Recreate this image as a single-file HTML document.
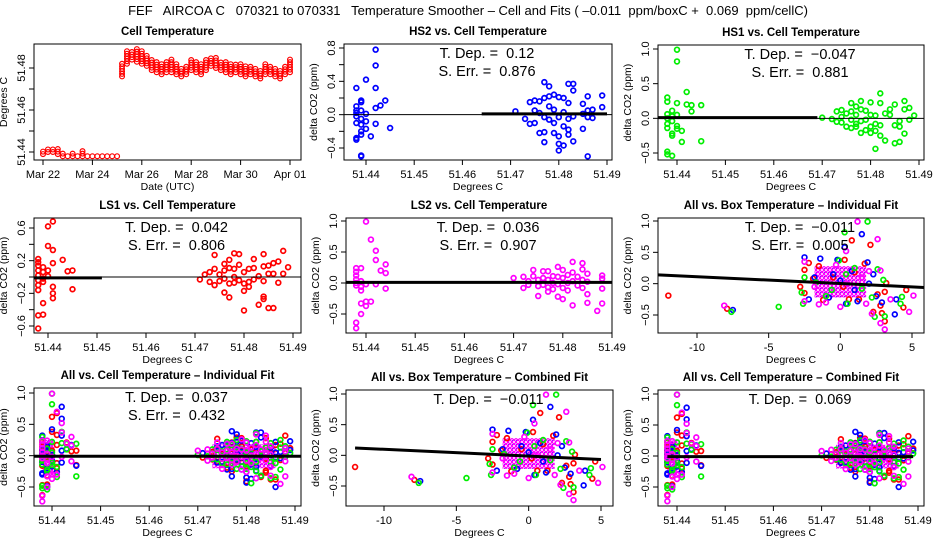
<!DOCTYPE html>
<html><head><meta charset="utf-8"><style>
html,body{margin:0;padding:0;background:#fff;}
svg{display:block;font-family:"Liberation Sans",Arial,sans-serif;}
</style></head><body>
<svg id="chart" width="936" height="540" viewBox="0 0 936 540" xmlns="http://www.w3.org/2000/svg">
<defs>
<pattern id="densePat" width="4" height="4" patternUnits="userSpaceOnUse"><rect width="4" height="4" fill="#ffffff"/><circle cx="2" cy="2" r="1.6" fill="none" stroke="#ff00ff" stroke-width="1.2"/><circle cx="0" cy="0" r="0.8" fill="#0000ff"/></pattern>
</defs>
<text x="468" y="15" text-anchor="middle" font-size="13" style="white-space:pre">FEF   AIRCOA C   070321 to 070331   Temperature Smoother – Cell and Fits ( –0.011  ppm/boxC +  0.069  ppm/cellC)</text>
</svg>
<script>
// ---- Panel 1: cell temperature time series (day of March, min/max per interval)
const tsDays = [22.0,22.2,22.4,22.6,22.8,23.0,23.2,23.4,23.6,23.8,24.0,24.2,24.4,24.6,24.8,25.0,25.2,25.4,25.6,25.8,26.0,26.2,26.4,26.6,26.8,27.0,27.2,27.4,27.6,27.8,28.0,28.2,28.4,28.6,28.8,29.0,29.2,29.4,29.6,29.8,30.0,30.2,30.4,30.6,30.8,31.0,31.2,31.4,31.6,31.8,32.0];
const tsMin = [51.439,51.440,51.440,51.439,51.438,51.438,51.438,51.438,51.438,51.438,51.438,51.438,51.438,51.438,51.438,51.438,51.476,51.482,51.484,51.483,51.482,51.481,51.479,51.478,51.477,51.478,51.478,51.477,51.476,51.477,51.479,51.478,51.477,51.479,51.481,51.480,51.479,51.478,51.477,51.478,51.477,51.476,51.477,51.476,51.475,51.477,51.477,51.476,51.475,51.477,51.478];
const tsMax = [51.441,51.442,51.442,51.442,51.440,51.439,51.440,51.439,51.441,51.439,51.439,51.439,51.439,51.439,51.439,51.438,51.482,51.488,51.488,51.489,51.488,51.486,51.484,51.483,51.482,51.483,51.484,51.482,51.480,51.481,51.484,51.483,51.482,51.484,51.485,51.485,51.483,51.483,51.482,51.482,51.482,51.481,51.481,51.480,51.479,51.482,51.481,51.480,51.479,51.481,51.484];
const dayTicks = [22,24,26,28,30,32];
const dayLabels = ["Mar 22","Mar 24","Mar 26","Mar 28","Mar 30","Apr 01"];

// ---- Sensor data vs cell temperature [cellT, dCO2]
const hs2Cell = [[51.438,0.32],[51.438,0.10],[51.438,0.05],[51.438,-0.02],[51.438,-0.10],[51.438,-0.28],[51.438,-0.30],[51.439,0.17],[51.439,0.15],[51.439,0.05],[51.439,-0.05],[51.439,-0.20],[51.439,-0.24],[51.439,-0.50],[51.439,-0.49],[51.440,0.42],[51.440,0.01],[51.440,-0.08],[51.440,-0.17],[51.441,-0.26],[51.442,0.78],[51.442,0.59],[51.442,0.32],[51.442,0.08],[51.442,-0.11],[51.443,0.11],[51.444,0.17],[51.445,-0.16],[51.438,0.02],[51.439,-0.12],
[51.471,0.04],[51.473,-0.05],[51.474,0.15],[51.474,-0.11],[51.475,0.17],[51.475,0.05],[51.475,-0.10],[51.476,0.16],[51.476,0.02],[51.476,-0.22],[51.477,0.39],[51.477,0.20],[51.477,-0.03],[51.477,-0.21],[51.477,-0.33],[51.478,0.34],[51.478,0.22],[51.478,0.10],[51.478,-0.06],[51.479,0.24],[51.479,0.06],[51.479,-0.10],[51.479,-0.22],[51.480,0.21],[51.480,-0.03],[51.480,-0.26],[51.480,-0.35],[51.480,-0.43],[51.481,0.20],[51.481,0.03],[51.481,-0.14],[51.481,-0.37],[51.482,0.37],[51.482,0.14],[51.482,-0.05],[51.482,-0.18],[51.482,-0.24],[51.483,0.37],[51.483,0.29],[51.483,-0.02],[51.483,-0.32],[51.485,0.13],[51.485,0.01],[51.485,-0.17],[51.486,0.22],[51.486,0.05],[51.486,-0.03],[51.486,-0.50],[51.487,0.06],[51.487,-0.04],[51.489,0.23],[51.489,0.09]];
const hs1Cell = [[51.438,0.30],[51.438,0.24],[51.438,0.06],[51.438,0.00],[51.438,-0.08],[51.438,-0.14],[51.438,-0.48],[51.438,-0.52],[51.439,0.11],[51.439,0.03],[51.439,-0.04],[51.439,-0.22],[51.439,-0.25],[51.439,-0.54],[51.440,0.99],[51.440,0.82],[51.440,0.22],[51.440,0.05],[51.440,-0.11],[51.440,-0.15],[51.441,-0.18],[51.441,-0.34],[51.442,0.38],[51.442,0.20],[51.443,0.19],[51.443,0.10],[51.445,0.19],[51.445,-0.33],
[51.470,0.01],[51.472,-0.01],[51.473,0.10],[51.473,-0.05],[51.474,0.12],[51.474,0.02],[51.474,-0.06],[51.475,0.07],[51.475,-0.12],[51.476,0.22],[51.476,0.10],[51.476,-0.02],[51.476,-0.14],[51.477,0.17],[51.477,0.05],[51.477,-0.08],[51.477,-0.12],[51.478,0.25],[51.478,0.13],[51.478,-0.04],[51.478,-0.21],[51.479,0.11],[51.479,-0.02],[51.479,-0.17],[51.480,0.23],[51.480,0.05],[51.480,-0.12],[51.480,-0.21],[51.481,0.04],[51.481,-0.08],[51.481,-0.18],[51.481,-0.44],[51.482,0.36],[51.482,0.22],[51.482,-0.10],[51.482,-0.25],[51.483,0.07],[51.483,-0.32],[51.484,0.13],[51.484,0.05],[51.485,0.20],[51.485,-0.10],[51.485,-0.36],[51.486,-0.04],[51.486,-0.12],[51.486,-0.34],[51.487,0.25],[51.487,0.13],[51.487,-0.22],[51.488,0.15],[51.488,-0.02],[51.489,0.04]];
const ls1Cell = [[51.438,0.22],[51.438,0.18],[51.438,0.14],[51.438,0.08],[51.438,0.02],[51.438,-0.04],[51.438,-0.10],[51.438,-0.16],[51.438,-0.47],[51.438,-0.63],[51.439,0.12],[51.439,0.06],[51.439,-0.02],[51.439,-0.06],[51.439,-0.32],[51.439,-0.46],[51.440,0.62],[51.440,0.38],[51.440,0.08],[51.440,0.01],[51.441,0.68],[51.441,0.33],[51.441,0.17],[51.441,-0.12],[51.441,-0.20],[51.441,-0.26],[51.443,0.21],[51.444,0.07],[51.445,0.08],[51.445,-0.15],
[51.471,-0.03],[51.472,0.03],[51.473,0.06],[51.473,-0.06],[51.474,0.27],[51.474,0.10],[51.474,-0.10],[51.475,0.03],[51.475,-0.05],[51.476,0.16],[51.476,0.08],[51.476,-0.02],[51.476,-0.19],[51.477,0.21],[51.477,0.11],[51.477,-0.08],[51.477,-0.25],[51.478,0.29],[51.478,0.10],[51.478,0.00],[51.478,-0.07],[51.479,0.28],[51.479,0.15],[51.479,-0.04],[51.480,0.06],[51.480,-0.08],[51.480,-0.17],[51.480,-0.41],[51.481,0.10],[51.481,-0.06],[51.481,-0.12],[51.482,0.22],[51.482,0.11],[51.482,-0.03],[51.483,0.01],[51.483,-0.34],[51.484,0.28],[51.484,0.13],[51.484,-0.05],[51.484,-0.24],[51.484,-0.27],[51.485,0.14],[51.485,0.04],[51.485,-0.38],[51.486,0.17],[51.486,0.04],[51.486,-0.38],[51.487,0.19],[51.487,-0.07],[51.488,0.32],[51.488,0.04],[51.489,0.12]];
const ls2Cell = [[51.438,0.24],[51.438,0.18],[51.438,0.12],[51.438,0.06],[51.438,0.00],[51.438,-0.04],[51.438,-0.64],[51.438,-0.73],[51.439,0.24],[51.439,0.03],[51.439,-0.06],[51.439,-0.12],[51.439,-0.33],[51.439,-0.50],[51.440,0.99],[51.440,-0.02],[51.440,-0.30],[51.440,-0.37],[51.441,0.70],[51.441,-0.30],[51.442,0.52],[51.442,0.37],[51.442,-0.02],[51.443,0.20],[51.444,0.30],[51.444,0.16],[51.444,-0.09],
[51.470,0.08],[51.472,0.10],[51.472,-0.08],[51.473,0.03],[51.473,-0.03],[51.474,0.21],[51.474,0.11],[51.475,0.05],[51.475,-0.05],[51.475,-0.21],[51.476,0.19],[51.476,0.08],[51.476,-0.03],[51.477,0.19],[51.477,0.05],[51.477,-0.07],[51.477,-0.14],[51.478,0.11],[51.478,0.00],[51.478,-0.10],[51.479,0.26],[51.479,0.10],[51.479,-0.02],[51.479,-0.22],[51.480,0.21],[51.480,0.08],[51.480,-0.08],[51.480,-0.26],[51.481,0.13],[51.481,0.00],[51.481,-0.12],[51.482,0.34],[51.482,0.17],[51.482,0.03],[51.482,-0.36],[51.483,0.10],[51.483,-0.04],[51.484,0.32],[51.484,0.22],[51.484,0.05],[51.484,-0.08],[51.485,0.15],[51.485,0.02],[51.485,-0.18],[51.485,-0.32],[51.487,-0.45],[51.488,0.12],[51.488,0.07],[51.488,-0.09],[51.488,-0.33]];

// ---- Sensor data vs box temperature [boxT, dCO2]
const ls1Box = [[-12,-0.19],[-7.9,-0.40],[0.8,0.69],[2.1,0.62],[4.6,-0.10],[4.4,-0.38],[3.1,-0.60],[2.9,-0.47],[2.3,-0.45],[3.1,-0.13],[3.2,0.01],[0.3,0.38],[-2.5,0.22],[-2.5,-0.15],[-2.2,0.33],[-2.8,-0.05],[-1.9,0.08],[-1.2,-0.26],[-0.8,-0.22],[0.6,-0.25],[1.3,-0.25],[1.7,0.32],[2.6,-0.17],[2.8,-0.35],[1.0,0.18],[-1.5,0.28],[-0.5,0.10],[0.2,-0.05]];
const hs2Box = [[-7.5,-0.42],[-2.5,0.42],[-2.2,-0.25],[-1.4,0.40],[-0.2,0.38],[0.3,0.58],[1.5,0.79],[1.9,0.34],[2.3,0.15],[3.8,-0.49],[3.9,-0.25],[2.9,-0.30],[1.2,-0.28],[0.4,-0.32],[-0.8,-0.22],[0.8,0.20],[-0.5,0.15],[1.0,-0.10],[2.5,-0.20],[-1.8,0.10],[0.0,0.05],[2.0,0.0]];
const hs1Box = [[-7.6,-0.45],[-4.3,-0.37],[-2.6,-0.32],[-2.7,-0.14],[-2.5,0.10],[-0.1,0.37],[0.3,0.82],[1.9,0.99],[2.6,0.23],[2.2,-0.22],[2.4,-0.53],[3.1,-0.52],[4.2,-0.32],[4.3,-0.21],[0.5,-0.32],[-1.0,-0.20],[0.4,0.15],[1.5,-0.08],[-0.6,-0.10],[3.0,0.06],[1.0,0.25],[-1.7,0.02]];
const ls2Box = [[-8.1,-0.35],[-2.5,0.35],[-2.5,-0.28],[-1.5,-0.33],[-1.0,-0.30],[0.0,-0.37],[0.4,0.52],[1.2,0.99],[2.6,0.71],[2.8,0.21],[2.2,-0.48],[2.8,-0.63],[3.1,-0.73],[3.5,-0.25],[4.8,-0.45],[5.1,-0.19],[1.8,-0.32],[-0.3,0.30],[0.5,0.00],[1.5,0.10],[-1.8,-0.05],[2.0,0.20]];

// dense overlapping cores [xmin,xmax,ymin,ymax]
const boxCore = [-1.8,1.8,-0.22,0.28];
const cellLowCore = [51.438,51.4405,-0.33,0.25];
const cellHighCore = [51.473,51.486,-0.2,0.18];

const cellTicks = [51.44,51.45,51.46,51.47,51.48,51.49];
const boxTicks = [-10,-5,0,5];

const NS = "http://www.w3.org/2000/svg";
const svg = document.getElementById('chart');
function el(tag, attrs, parent){
  const e = document.createElementNS(NS, tag);
  for (const k in attrs) e.setAttribute(k, attrs[k]);
  (parent||svg).appendChild(e);
  return e;
}
function lin(v1,p1,v2,p2){ return v => p1 + (v - v1) * (p2 - p1) / (v2 - v1); }
const colors = {ls1:'#ff0000', hs2:'#0000ff', hs1:'#00ee00', ls2:'#ff00ff'};

let clipId = 0;
function panel(c){
  const g = el('g', {});
  
  
  const X = lin(c.xr[0], c.xr[1], c.xr[2], c.xr[3]);
  const Y = lin(c.yr[0], c.yr[1], c.yr[2], c.yr[3]);
  const b = c.box;
  const t = el('text', {x:(b[0]+b[1])/2, y:b[2]-9, 'text-anchor':'middle', 'font-size':'11.5', 'font-weight':'bold'}, g);
  t.textContent = c.title;
  
  
  clipId++;
  const cp = el('clipPath', {id:'cp'+clipId}, g);
  el('rect', {x:b[0], y:b[2], width:b[1]-b[0], height:b[3]-b[2]}, cp);
  const pg = el('g', {'clip-path':'url(#cp'+clipId+')'}, g);
  
  
  c.draw(pg, X, Y);
  (c.lines||[]).forEach(L => {
    const ln = el('line', {x1:X(L[0]), y1:Y(L[1]), x2:X(L[2]), y2:Y(L[3]), stroke:'#000', 'stroke-width':L[4]}, pg);
    
    
  });
  const fr = el('rect', {x:b[0], y:b[2], width:b[1]-b[0], height:b[3]-b[2], fill:'none', stroke:'#000', 'stroke-width':1}, g);
  
  
  const xa = el('g', {}, g);
  
  
  const xt = c.xticks;
  el('line', {x1:X(xt[0]), y1:b[3], x2:X(xt[xt.length-1]), y2:b[3], stroke:'#000'}, xa);
  xt.forEach((v,i) => {
    el('line', {x1:X(v), y1:b[3], x2:X(v), y2:b[3]+5, stroke:'#000'}, xa);
    const tl = el('text', {x:X(v), y:b[3]+18, 'text-anchor':'middle', 'font-size':'11'}, xa);
    tl.textContent = c.xlabels ? c.xlabels[i] : String(v);
    
    
  });
  const xtitle = el('text', {x:(b[0]+b[1])/2, y:b[3]+30, 'text-anchor':'middle', 'font-size':'10.5'}, xa);
  xtitle.textContent = c.xtitle;
  
  
  const ya = el('g', {}, g);
  
  
  const yt = c.yticks;
  el('line', {x1:b[0], y1:Y(yt[0]), x2:b[0], y2:Y(yt[yt.length-1]), stroke:'#000'}, ya);
  yt.forEach(v => {
    el('line', {x1:b[0]-5, y1:Y(v), x2:b[0], y2:Y(v), stroke:'#000'}, ya);
  });
  c.ylabels.forEach(v => {
    const yy = Y(v), xx = b[0]-9;
    const tl = el('text', {x:xx, y:yy, 'text-anchor':'middle', 'font-size':'11', transform:`rotate(-90 ${xx} ${yy})`}, ya);
    tl.textContent = c.yfmt(v);
    
    
  });
  const yx = b[0]-27, yy = (b[2]+b[3])/2;
  const ytitle = el('text', {x:yx, y:yy, 'text-anchor':'middle', 'font-size':'10.5', transform:`rotate(-90 ${yx} ${yy})`}, ya);
  ytitle.textContent = c.ytitle;
  
  
  (c.notes||[]).forEach((n,i) => {
    const a = el('text', {x:(b[0]+b[1])/2 + 9, y:b[2]+14+i*18, 'text-anchor':'middle', 'font-size':'14.5', style:'white-space:pre'}, g);
    a.textContent = n;
    
    
  });
}
function pts(g, X, Y, data, col){
  data.forEach(d => {
    const c = el('circle', {cx:X(d[0]), cy:Y(d[1]), r:2.4, fill:'none', stroke:col, 'stroke-width':1.7}, g);
    
    
  });
}
function core(g, X, Y, r, fill){
  const c = el('rect', {x:X(r[0]), y:Y(r[3]), width:X(r[1])-X(r[0]), height:Y(r[2])-Y(r[3]), fill:fill}, g);
  
  
}
const f2 = v => v.toFixed(2);
const fy = v => (v<0?'\u2212':'') + Math.abs(v).toFixed(1);
const cellY = 'delta CO2 (ppm)';

panel({name:'cell-temperature-panel', title:'Cell Temperature', box:[34,301,44,160],
  xr:[22,43,32,290], yr:[51.44,152,51.48,68], xticks:dayTicks, xlabels:dayLabels, xtitle:'Date (UTC)',
  yticks:[51.44,51.45,51.46,51.47,51.48], ylabels:[51.44,51.46,51.48], yfmt:f2, ytitle:'Degrees C',
  draw:(g,X,Y)=>{
    tsDays.forEach((d,i)=>{
      for (let v = tsMin[i]; v <= tsMax[i] + 1e-9; v += 0.0012){
        const c = el('circle', {cx:X(d), cy:Y(v), r:2.4, fill:'none', stroke:'#ff0000', 'stroke-width':1.2}, g);
        
        
      }
    });
  }});
panel({name:'hs2-vs-cell-panel', title:'HS2 vs. Cell Temperature', box:[344,612,44,160],
  xr:[51.44,366,51.49,607], yr:[0.8,48,-0.4,148], xticks:cellTicks, xtitle:'Degrees C',
  yticks:[-0.4,-0.2,0,0.2,0.4,0.6,0.8], ylabels:[-0.4,0,0.4,0.8], yfmt:fy, ytitle:cellY,
  notes:['T. Dep. =  0.12','S. Err. =  0.876'],
  lines:[[51.43,0,51.5,0,1],[51.464,0.01,51.49,0.01,3]],
  draw:(g,X,Y)=>pts(g,X,Y,hs2Cell,colors.hs2)});
panel({name:'hs1-vs-cell-panel', title:'HS1 vs. Cell Temperature', box:[658,924,45,160],
  xr:[51.44,677,51.49,919], yr:[1.0,49,-0.5,153], xticks:cellTicks, xtitle:'Degrees C',
  yticks:[-0.5,0,0.5,1.0], ylabels:[-0.5,0,0.5,1.0], yfmt:fy, ytitle:cellY,
  notes:['T. Dep. =  \u22120.047','S. Err. =  0.881'],
  lines:[[51.43,0,51.5,0,1],[51.43,0.01,51.469,0.01,3]],
  draw:(g,X,Y)=>pts(g,X,Y,hs1Cell,colors.hs1)});
panel({name:'ls1-vs-cell-panel', title:'LS1 vs. Cell Temperature', box:[34,301,218,333],
  xr:[51.44,48,51.49,293], yr:[0.6,228,-0.6,326], xticks:cellTicks, xtitle:'Degrees C',
  yticks:[-0.6,-0.4,-0.2,0,0.2,0.4,0.6], ylabels:[-0.6,-0.2,0.2,0.6], yfmt:fy, ytitle:cellY,
  notes:['T. Dep. =  0.042','S. Err. =  0.806'],
  lines:[[51.43,0,51.5,0,1],[51.43,-0.01,51.451,-0.01,3]],
  draw:(g,X,Y)=>pts(g,X,Y,ls1Cell,colors.ls1)});
panel({name:'ls2-vs-cell-panel', title:'LS2 vs. Cell Temperature', box:[346,612,218,333],
  xr:[51.44,366,51.49,612], yr:[1.0,221,-0.5,314], xticks:cellTicks, xtitle:'Degrees C',
  yticks:[-0.5,0,0.5,1.0], ylabels:[-0.5,0,0.5,1.0], yfmt:fy, ytitle:cellY,
  notes:['T. Dep. =  0.036','S. Err. =  0.907'],
  lines:[[51.43,0.01,51.5,0.01,3]],
  draw:(g,X,Y)=>pts(g,X,Y,ls2Cell,colors.ls2)});
panel({name:'all-vs-box-individual-panel', title:'All vs. Box Temperature \u2013 Individual Fit', box:[658,924,218,333],
  xr:[-10,697,5,912], yr:[1.0,221,-0.5,315], xticks:boxTicks, xtitle:'Degrees C',
  yticks:[-0.5,0,0.5,1.0], ylabels:[-0.5,0,0.5,1.0], yfmt:fy, ytitle:cellY,
  notes:['T. Dep. =  \u22120.011','S. Err. =  0.005'],
  lines:[[-13,0.143,7,-0.073,3]],
  draw:(g,X,Y)=>{core(g,X,Y,boxCore,'url(#densePat)');pts(g,X,Y,ls1Box,colors.ls1);pts(g,X,Y,hs2Box,colors.hs2);pts(g,X,Y,hs1Box,colors.hs1);pts(g,X,Y,ls2Box,colors.ls2);}});
function allCell(g,X,Y){
  core(g,X,Y,cellLowCore,'url(#densePat)');core(g,X,Y,cellHighCore,'url(#densePat)');
  pts(g,X,Y,ls1Cell,colors.ls1);pts(g,X,Y,hs2Cell,colors.hs2);pts(g,X,Y,hs1Cell,colors.hs1);pts(g,X,Y,ls2Cell,colors.ls2);
}
panel({name:'all-vs-cell-individual-panel', title:'All vs. Cell Temperature \u2013 Individual Fit', box:[34,301,388,506],
  xr:[51.44,52,51.49,295], yr:[1.0,393,-0.5,487], xticks:cellTicks, xtitle:'Degrees C',
  yticks:[-0.5,0,0.5,1.0], ylabels:[-0.5,0,0.5,1.0], yfmt:fy, ytitle:cellY,
  notes:['T. Dep. =  0.037','S. Err. =  0.432'],
  lines:[[51.43,-0.01,51.5,-0.01,3]],
  draw:allCell});
panel({name:'all-vs-box-combined-panel', title:'All vs. Box Temperature \u2013 Combined Fit', box:[346,613,390,506],
  xr:[-10,384,5,601], yr:[1.0,394,-0.5,486], xticks:boxTicks, xtitle:'Degrees C',
  yticks:[-0.5,0,0.5,1.0], ylabels:[-0.5,0,0.5,1.0], yfmt:fy, ytitle:cellY,
  notes:['T. Dep. =  \u22120.011'],
  lines:[[-12,0.12,5,-0.067,3]],
  draw:(g,X,Y)=>{core(g,X,Y,boxCore,'url(#densePat)');pts(g,X,Y,ls1Box,colors.ls1);pts(g,X,Y,hs2Box,colors.hs2);pts(g,X,Y,hs1Box,colors.hs1);pts(g,X,Y,ls2Box,colors.ls2);}});
panel({name:'all-vs-cell-combined-panel', title:'All vs. Cell Temperature \u2013 Combined Fit', box:[658,924,390,506],
  xr:[51.44,677,51.49,918], yr:[1.0,394,-0.5,487], xticks:cellTicks, xtitle:'Degrees C',
  yticks:[-0.5,0,0.5,1.0], ylabels:[-0.5,0,0.5,1.0], yfmt:fy, ytitle:cellY,
  notes:['T. Dep. =  0.069'],
  lines:[[51.438,-0.01,51.489,-0.01,3]],
  draw:allCell});
</script>
</body></html>
